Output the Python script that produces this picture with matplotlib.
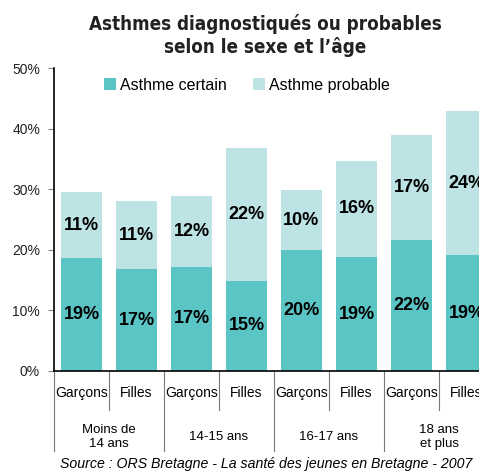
import matplotlib.pyplot as plt
from matplotlib.lines import Line2D

# data
groupes = ['Moins de\n14 ans', '14-15 ans', '16-17 ans', '18 ans\net plus']
sexes = ['Garçons', 'Filles']
certain = [18.6, 16.8, 17.2, 14.9, 19.9, 18.8, 21.6, 19.1]
probable = [10.9, 11.2, 11.6, 21.9, 9.9, 15.9, 17.4, 23.8]

c_certain = '#5BC5C6'
c_probable = '#BDE3E4'

plt.rcParams['font.family'] = ['Liberation Sans', 'DejaVu Sans']

fig = plt.figure(figsize=(4.79, 4.72), dpi=100)
ax = fig.add_axes([54 / 479, 1 - 371 / 472, 440 / 479, 303 / 472])

x = list(range(len(certain)))
ax.bar(x, certain, width=0.74, color=c_certain, label='Asthme certain')
ax.bar(x, probable, width=0.74, bottom=certain, color=c_probable,
       label='Asthme probable')

for i in x:
    ax.text(i, certain[i] / 2, f'{certain[i]:.0f}%', ha='center', va='center',
            fontsize=13, fontweight='bold')
    ax.text(i, certain[i] + probable[i] / 2, f'{probable[i]:.0f}%',
            ha='center', va='center', fontsize=13, fontweight='bold')

ax.set_xlim(-0.5, len(certain) - 0.5)
ax.set_ylim(0, 50)
ax.set_yticks(range(0, 51, 10))
ax.set_yticklabels([f'{v}%' for v in range(0, 51, 10)], fontsize=10, color='#222222')
ax.tick_params(axis='y', length=4, width=0.8, color='#888888', pad=6)
ax.set_xticks([])
for s in ['top', 'right']:
    ax.spines[s].set_visible(False)
ax.spines['left'].set_linewidth(1.2)
ax.spines['bottom'].set_linewidth(1.2)

# category labels below the axis
tr = ax.get_xaxis_transform()
for i in x:
    ax.text(i, -0.072, sexes[i % 2], transform=tr, ha='center', va='center',
            fontsize=10)
for g, lab in enumerate(groupes):
    ax.text(2 * g + 0.5, -0.218, lab, transform=tr, ha='center', va='center',
            fontsize=9.5, linespacing=1.3)
for k in range(len(certain) + 1):
    xpos = k - 0.5
    low = -0.265 if k % 2 == 0 else -0.13
    ax.add_line(Line2D([xpos, xpos], [0, low], transform=tr, color='#777777',
                       lw=0.8, clip_on=False))

fig.text(0.553, 0.925, 'Asthmes diagnostiqués ou probables\nselon le sexe et l\u2019âge',
         ha='center', va='center', fontsize=13.5, fontweight='bold',
         family=['DejaVu Sans Condensed', 'Liberation Sans Narrow', 'DejaVu Sans'],
         color='#222222', linespacing=1.2, fontstretch='condensed')

ax.legend(loc='upper left', bbox_to_anchor=(0.08, 1.015), ncol=2, frameon=False,
          fontsize=11.5, handlelength=0.75, handleheight=0.75, handletextpad=0.3,
          columnspacing=1.6)

fig.text(0.555, 0.017, 'Source : ORS Bretagne - La santé des jeunes en Bretagne - 2007',
         ha='center', va='center', fontsize=10.2, style='italic')

fig.savefig('out.png', dpi=100)
